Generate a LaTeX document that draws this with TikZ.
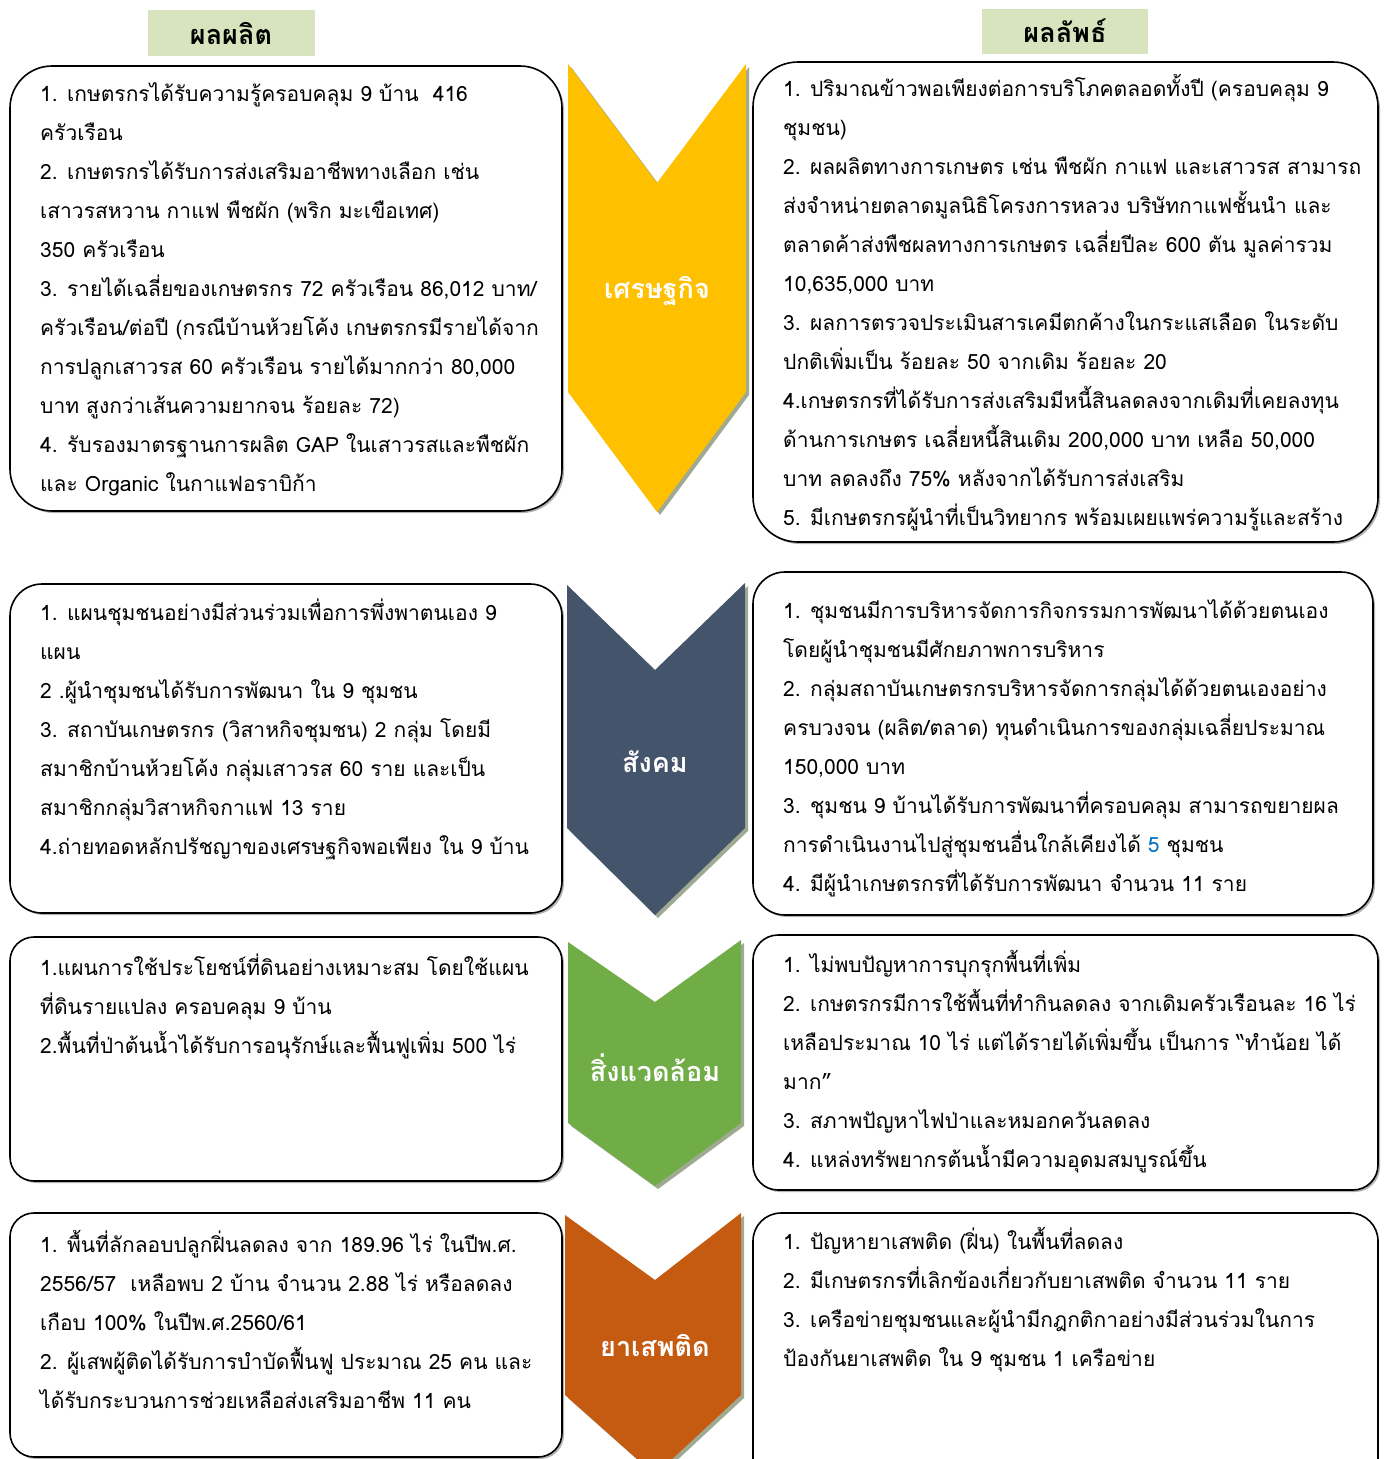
\documentclass[tikz,border=0pt]{standalone}
\usepackage{fontspec}
\newfontfamily\thaifont[Script=Thai]{Loma}
\usetikzlibrary{positioning}

\definecolor{hdgreen}{RGB}{215,228,189}
\definecolor{ecoyellow}{RGB}{255,192,0}
\definecolor{socslate}{RGB}{68,84,106}
\definecolor{envgreen}{RGB}{112,173,71}
\definecolor{drugorange}{RGB}{197,90,17}
\definecolor{chevshade}{RGB}{160,170,146}
\definecolor{numblue}{RGB}{0,112,192}

\tikzset{
  header/.style={fill=hdgreen, inner sep=0pt, font=\thaifont\bfseries\fontsize{27}{30}\selectfont},
  resbox/.style={draw=black, line width=1.6pt, fill=white},
  boxshade/.style={fill=black!30},
  chevshadow/.style={fill=chevshade},
  chevlabel/.style={text=white, inner sep=0pt, font=\thaifont\bfseries\fontsize{27}{30}\selectfont},
  itemtext/.style={anchor=north west, align=left, inner sep=0pt, font=\thaifont\fontsize{21}{39}\selectfont}
}

\begin{document}
\begin{tikzpicture}[x=1pt,y=-1pt]
\useasboundingbox (0,0) rectangle (1387,1459);

% headers
\node[header, minimum width=167pt, minimum height=46pt] (hdout) at (231,33) {ผลผลิต};
\node[header, minimum width=166pt, minimum height=45pt] (hdres) at (1065,31) {ผลลัพธ์};

% chevrons
\fill[chevshadow] (571,67) -- (660,186) -- (749,67) -- (749,395) -- (660,515) -- (571,395) -- cycle;
\fill[ecoyellow] (568,64) -- (657,183) -- (746,64) -- (746,392) -- (657,512) -- (568,392) -- cycle;
\node[chevlabel] (dim1) at (657,291) {เศรษฐกิจ};

\fill[chevshadow] (570,588) -- (658,673) -- (748,586) -- (748,831) -- (658,918) -- (570,831) -- cycle;
\fill[socslate] (567,585) -- (655,670) -- (745,583) -- (745,828) -- (655,915) -- (567,828) -- cycle;
\node[chevlabel] (dim2) at (655,762) {สังคม};

\fill[chevshadow] (571,945) -- (658,1005) -- (744,943) -- (744,1126) -- (658,1189) -- (571,1126) -- cycle;
\fill[envgreen] (568,942) -- (655,1002) -- (741,940) -- (741,1123) -- (655,1186) -- (568,1123) -- cycle;
\node[chevlabel] (dim3) at (655,1068) {สิ่งแวดล้อม};

\fill[chevshadow] (568,1218) -- (658,1283) -- (744,1216) -- (744,1398) -- (658,1478) -- (568,1398) -- cycle;
\fill[drugorange] (565,1215) -- (655,1280) -- (741,1213) -- (741,1395) -- (655,1475) -- (565,1395) -- cycle;
\node[chevlabel] (dim4) at (655,1345) {ยาเสพติด};

% output boxes (left)
\fill[boxshade, rounded corners=42pt] (12,68) rectangle (564,513);
\draw[resbox, rounded corners=42pt] (10,66) rectangle (562,511);
\fill[boxshade, rounded corners=32pt] (12,586) rectangle (564,915);
\draw[resbox, rounded corners=32pt] (10,584) rectangle (562,913);
\fill[boxshade, rounded corners=24pt] (12,939) rectangle (564,1183);
\draw[resbox, rounded corners=24pt] (10,937) rectangle (562,1181);
\fill[boxshade, rounded corners=24pt] (12,1215) rectangle (564,1459);
\draw[resbox, rounded corners=24pt] (10,1213) rectangle (562,1457);

% result boxes (right)
\fill[boxshade, rounded corners=45pt] (755,64) rectangle (1380,544);
\draw[resbox, rounded corners=45pt] (753,62) rectangle (1378,542);
\fill[boxshade, rounded corners=32pt] (755,574) rectangle (1375,917);
\draw[resbox, rounded corners=32pt] (753,572) rectangle (1373,915);
\fill[boxshade, rounded corners=25pt] (755,937) rectangle (1380,1192);
\draw[resbox, rounded corners=25pt] (753,935) rectangle (1378,1190);
\draw[resbox, rounded corners=28pt] (753,1213) rectangle (1378,1500);

% texts
\node[itemtext] (out1) at (40,74) {\strut 1. เกษตรกรได้รับความรู้ครอบคลุม 9 บ้าน~ 416\\
ครัวเรือน\\
2. เกษตรกรได้รับการส่งเสริมอาชีพทางเลือก เช่น\\
เสาวรสหวาน กาแฟ พืชผัก (พริก มะเขือเทศ)\\
350 ครัวเรือน\\
3. รายได้เฉลี่ยของเกษตรกร 72 ครัวเรือน 86,012 บาท/\\
ครัวเรือน/ต่อปี (กรณีบ้านห้วยโค้ง เกษตรกรมีรายได้จาก\\
การปลูกเสาวรส 60 ครัวเรือน รายได้มากกว่า 80,000\\
บาท สูงกว่าเส้นความยากจน ร้อยละ 72)\\
4. รับรองมาตรฐานการผลิต GAP ในเสาวรสและพืชผัก\\
และ Organic ในกาแฟอราบิก้า};

\node[itemtext] (res1) at (783,69) {\strut 1. ปริมาณข้าวพอเพียงต่อการบริโภคตลอดทั้งปี (ครอบคลุม 9\\
ชุมชน)\\
2. ผลผลิตทางการเกษตร เช่น พืชผัก กาแฟ และเสาวรส สามารถ\\
ส่งจำหน่ายตลาดมูลนิธิโครงการหลวง บริษัทกาแฟชั้นนำ และ\\
ตลาดค้าส่งพืชผลทางการเกษตร เฉลี่ยปีละ 600 ตัน มูลค่ารวม\\
10,635,000 บาท\\
3. ผลการตรวจประเมินสารเคมีตกค้างในกระแสเลือด ในระดับ\\
ปกติเพิ่มเป็น ร้อยละ 50 จากเดิม ร้อยละ 20\\
4.เกษตรกรที่ได้รับการส่งเสริมมีหนี้สินลดลงจากเดิมที่เคยลงทุน\\
ด้านการเกษตร เฉลี่ยหนี้สินเดิม 200,000 บาท เหลือ 50,000\\
บาท ลดลงถึง 75\% หลังจากได้รับการส่งเสริม\\
5. มีเกษตรกรผู้นำที่เป็นวิทยากร พร้อมเผยแพร่ความรู้และสร้าง};

\node[itemtext] (out2) at (40,593) {\strut 1. แผนชุมชนอย่างมีส่วนร่วมเพื่อการพึ่งพาตนเอง 9\\
แผน\\
2 .ผู้นำชุมชนได้รับการพัฒนา ใน 9 ชุมชน\\
3. สถาบันเกษตรกร (วิสาหกิจชุมชน) 2 กลุ่ม โดยมี\\
สมาชิกบ้านห้วยโค้ง กลุ่มเสาวรส 60 ราย และเป็น\\
สมาชิกกลุ่มวิสาหกิจกาแฟ 13 ราย\\
4.ถ่ายทอดหลักปรัชญาของเศรษฐกิจพอเพียง ใน 9 บ้าน};

\node[itemtext] (res2) at (783,591) {\strut 1. ชุมชนมีการบริหารจัดการกิจกรรมการพัฒนาได้ด้วยตนเอง\\
โดยผู้นำชุมชนมีศักยภาพการบริหาร\\
2. กลุ่มสถาบันเกษตรกรบริหารจัดการกลุ่มได้ด้วยตนเองอย่าง\\
ครบวงจน (ผลิต/ตลาด) ทุนดำเนินการของกลุ่มเฉลี่ยประมาณ\\
150,000 บาท\\
3. ชุมชน 9 บ้านได้รับการพัฒนาที่ครอบคลุม สามารถขยายผล\\
การดำเนินงานไปสู่ชุมชนอื่นใกล้เคียงได้ \textcolor{numblue}{5} ชุมชน\\
4. มีผู้นำเกษตรกรที่ได้รับการพัฒนา จำนวน 11 ราย};

\node[itemtext] (out3) at (40,948) {\strut 1.แผนการใช้ประโยชน์ที่ดินอย่างเหมาะสม โดยใช้แผน\\
ที่ดินรายแปลง ครอบคลุม 9 บ้าน\\
2.พื้นที่ป่าต้นน้ำได้รับการอนุรักษ์และฟื้นฟูเพิ่ม 500 ไร่};

\node[itemtext] (res3) at (783,945) {\strut 1. ไม่พบปัญหาการบุกรุกพื้นที่เพิ่ม\\
2. เกษตรกรมีการใช้พื้นที่ทำกินลดลง จากเดิมครัวเรือนละ 16 ไร่\\
เหลือประมาณ 10 ไร่ แต่ได้รายได้เพิ่มขึ้น เป็นการ “ทำน้อย ได้\\
มาก”\\
3. สภาพปัญหาไฟป่าและหมอกควันลดลง\\
4. แหล่งทรัพยากรต้นน้ำมีความอุดมสมบูรณ์ขึ้น};

\node[itemtext] (out4) at (40,1225) {\strut 1. พื้นที่ลักลอบปลูกฝิ่นลดลง จาก 189.96 ไร่ ในปีพ.ศ.\\
2556/57~ เหลือพบ 2 บ้าน จำนวน 2.88 ไร่ หรือลดลง\\
เกือบ 100\% ในปีพ.ศ.2560/61\\
2. ผู้เสพผู้ติดได้รับการบำบัดฟื้นฟู ประมาณ 25 คน และ\\
ได้รับกระบวนการช่วยเหลือส่งเสริมอาชีพ 11 คน};

\node[itemtext] (res4) at (783,1222) {\strut 1. ปัญหายาเสพติด (ฝิ่น) ในพื้นที่ลดลง\\
2. มีเกษตรกรที่เลิกข้องเกี่ยวกับยาเสพติด จำนวน 11 ราย\\
3. เครือข่ายชุมชนและผู้นำมีกฎกติกาอย่างมีส่วนร่วมในการ\\
ป้องกันยาเสพติด ใน 9 ชุมชน 1 เครือข่าย};
\end{tikzpicture}
\end{document}
